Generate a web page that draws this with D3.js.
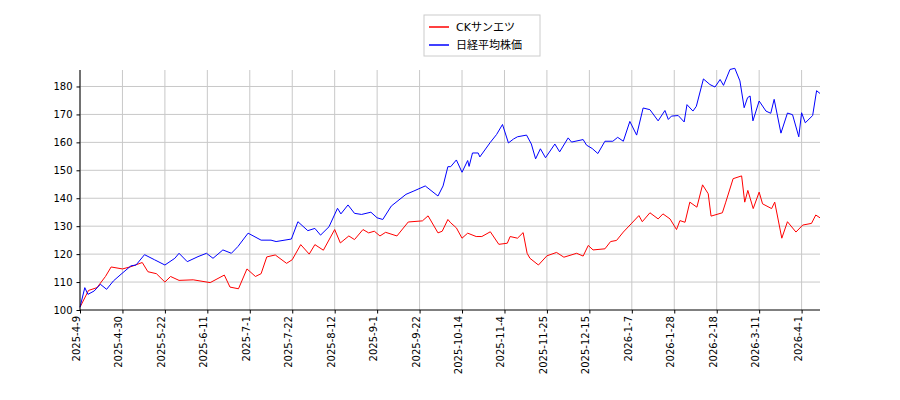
<!DOCTYPE html>
<html><head><meta charset="utf-8">
<script src="https://cdn.jsdelivr.net/npm/d3@7"></script>
<style>body{margin:0;background:#fff}svg{font-family:"DejaVu Sans",sans-serif}</style>
</head><body><div id="chart"></div>
<script>
// 営業日インデックスと値
const ckIdx = [0,3,6,9,11,15,18,22,24,27,30,32,35,40,46,51,53,56,59,62,64,66,69,73,75,78,81,83,86,90,92,95,97,100,102,104,106,108,112,116,121,123,126.5,128,130,131,133,135,137,140,142,145,148,151,152,154.6,156.6,158,159,162,165,168.4,171,175.5,177.8,179.6,181.3,185.5,187.5,189.6,192,195,197.5,198.7,201.4,204.3,206,208.5,210.8,212,213.8,215.5,218,220,222,223,227,228.2,230.8,233.8,234.9,236,237.9,240,241.2,244.4,245.5,248,250,253,255.4,258.5,260,261.5]
const ckVal = [101,107,108,112,115.4,114.7,115.5,117,113.7,113,110,112,110.6,110.8,109.8,112.5,108.2,107.6,114.7,112,113,119,119.7,116.7,118,123.4,120,123.4,121.4,128.8,124,126.5,125.2,128.8,127.6,128.2,126.5,127.8,126.5,131.5,131.9,133.7,127.6,128.2,132.4,131.2,129.4,125.7,127.5,126.3,126.3,128,123.5,123.9,126.3,125.7,127.7,120.3,118.5,116.1,119.4,120.6,118.9,120.3,119.3,123.1,121.5,121.9,124.5,124.9,127.9,131.1,133.8,131.6,134.8,132.6,134.4,132.6,128.8,132,131.4,138.6,136.8,144.8,141.6,133.6,134.8,138.6,147,148,138.6,142.8,136.3,142.2,138,136.3,138.6,125.7,131.6,127.9,130.4,131,134,133]
const nkIdx = [0,1.7,2.8,5,7.2,9.4,11.8,14.5,18,19.8,22.8,26.3,30,33.5,35,37.9,41.7,44.7,47,50.5,53.5,55.8,59.4,64,67.5,69.3,74.7,77,80.5,83,85,88,91,92.2,94.7,97,99.5,102.8,105,107,110,115.2,118,122,126.5,128.3,130,131,133,135,137,137.5,138.7,140.7,141.3,145,147.2,149.3,151.4,153.2,154.6,157.8,159.5,161,162.7,164.5,167.8,169.5,172.5,173.7,177.8,179,181,183,185.5,188.3,190,192,194.3,196.7,199,201.4,204.3,206.7,207.9,209,211.4,213.5,214.5,216.6,217.8,220.3,222.6,224.4,226.2,227.4,229.7,231.4,233.2,234.7,235.9,236.8,237.8,240,242.4,244.1,245.3,247.7,250,251.8,254,255,256.3,258.9,260.3,261.5]
const nkVal = [101,108,105.6,106.8,109.2,107.4,110.4,112.8,115.8,116.1,119.8,118,116.1,118.5,120.3,117.3,119.1,120.3,118.5,121.5,120.3,122.7,127.5,125,125,124.5,125.4,131.6,128.4,129.2,126.8,129.8,136.4,134.4,137.6,134.6,134.2,135,133,132.4,137.2,141.4,142.6,144.4,140.8,144.4,151.3,151.3,153.7,149.3,153.5,151.4,156.2,156.2,154.8,160,162.8,166.4,159.8,161.2,162,162.6,159.4,154.1,157.7,154.5,159.4,156.6,161.6,160.1,161,159,157.8,156,160.4,160.4,161.8,160.4,167.5,162.6,172.3,171.7,167.7,171.4,168.2,169.4,169.6,167.3,173.5,171.2,172.9,182.7,180.7,179.8,182.5,180.4,186.1,186.5,182,172.4,176,176.6,167.7,174.8,171.2,170.4,175.4,163.3,170.5,169.9,162,170.6,167,169.6,178.5,177.5]
const tickIdx = [0,15,30,45,60,75,90,105,120,135,150,165,180,195,210,225,240,255]
const tickLabels = ["2025-4-9","2025-4-30","2025-5-22","2025-6-11","2025-7-1","2025-7-22","2025-8-12","2025-9-1","2025-9-22","2025-10-14","2025-11-4","2025-11-25","2025-12-15","2026-1-7","2026-1-28","2026-2-18","2026-3-11","2026-4-1"]
const seriesNames = ["CKサンエツ", "日経平均株価"]
const seriesColors = ["red", "blue"]

const W = 900, H = 400
const svg = d3.select("#chart").append("svg").attr("width", W).attr("height", H)

const x = d3.scaleLinear().domain([0, 261.5]).range([80, 820])
const y = d3.scaleLinear().domain([100, 185.9]).range([310, 70])

// grid
svg.append("g").selectAll("line").data(tickIdx).join("line")
  .attr("x1", d => x(d)).attr("x2", d => x(d)).attr("y1", 70).attr("y2", 310)
  .attr("stroke", "#c8c8c8").attr("stroke-width", 1)
svg.append("g").selectAll("line").data(d3.range(110, 190, 10)).join("line")
  .attr("x1", 80).attr("x2", 820).attr("y1", d => y(d)).attr("y2", d => y(d))
  .attr("stroke", "#c8c8c8").attr("stroke-width", 1)

const line = d3.line().x(d => x(d[0])).y(d => y(d[1]))
const ck = d3.zip(ckIdx, ckVal), nk = d3.zip(nkIdx, nkVal)
svg.append("path").datum(ck).attr("d", line).attr("fill", "none").attr("stroke", "red").attr("stroke-width", 1)
svg.append("path").datum(nk).attr("d", line).attr("fill", "none").attr("stroke", "blue").attr("stroke-width", 1)

// axes
const yAxis = svg.append("g").attr("transform", "translate(80,0)")
  .call(d3.axisLeft(y).tickValues(d3.range(100, 190, 10)).tickSize(3.5).tickPadding(4))
const xAxis = svg.append("g").attr("transform", "translate(0,310)")
  .call(d3.axisBottom(x).tickValues(tickIdx).tickFormat((d, i) => tickLabels[i]).tickSize(3.5).tickPadding(3))
xAxis.selectAll("text").attr("transform", "rotate(-90)").attr("text-anchor", "end")
  .attr("x", -6).attr("y", -4).attr("dy", "0.35em")
for (const g of [xAxis, yAxis]) {
  g.select(".domain").attr("stroke", "#000")
  g.selectAll("text").attr("font-size", 10).attr("fill", "#000").attr("font-family", "DejaVu Sans")
  g.selectAll(".tick line").attr("stroke", "#000")
}
yAxis.select(".domain").attr("d", "M0,70V310")
xAxis.select(".domain").attr("d", "M80,0H820")

// legend
const lg = svg.append("g").attr("transform", "translate(424,15)")
lg.append("rect").attr("width", 116).attr("height", 41).attr("fill", "#fff").attr("stroke", "#ccc")
seriesNames.forEach((n, i) => {
  lg.append("line").attr("x1", 5).attr("x2", 25).attr("y1", 12 + i * 18).attr("y2", 12 + i * 18)
    .attr("stroke", seriesColors[i]).attr("stroke-width", 1.5)
  lg.append("text").attr("x", 32).attr("y", 12 + i * 18).attr("dy", "0.35em")
    .attr("font-size", 11).attr("font-family", "DejaVu Sans, Noto Sans CJK JP").text(n)
})
</script></body></html>
